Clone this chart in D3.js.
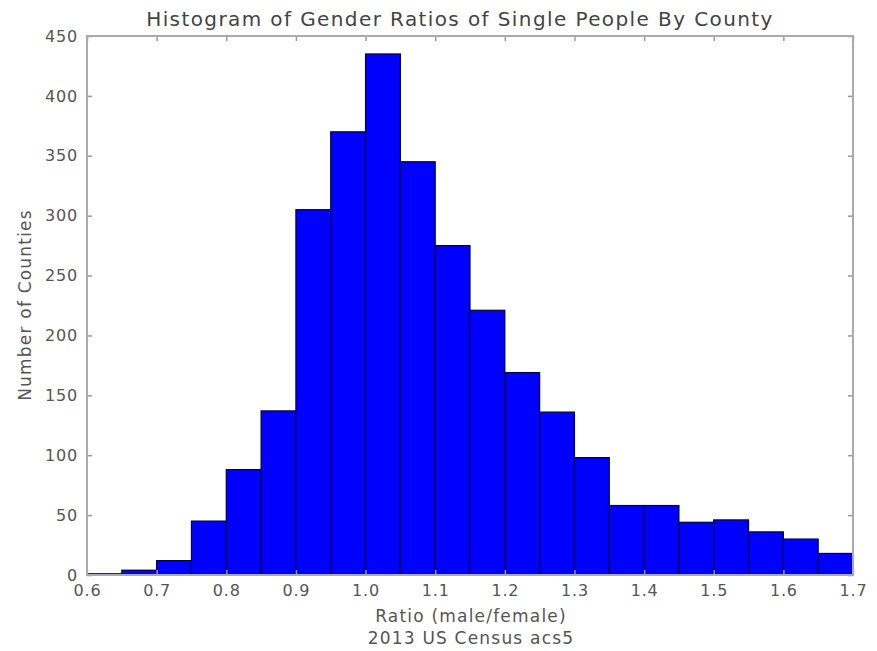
<!DOCTYPE html>
<html><head><meta charset="utf-8">
<script src="https://cdn.jsdelivr.net/npm/d3@7"></script>
<style>body{margin:0;background:#fff}svg{display:block}</style>
</head><body><svg id="c" width="877" height="651"></svg>
<script>
const binStarts = [0.60,0.65,0.70,0.75,0.80,0.85,0.90,0.95,1.00,1.05,1.10,1.15,1.20,1.25,1.30,1.35,1.40,1.45,1.50,1.55,1.60,1.65];
const counts    = [1,4,12,45,88,137,305,370,435,345,275,221,169,136,98,58,58,44,46,36,30,18];
const binWidth = 0.05;
const xTicks = [0.6,0.7,0.8,0.9,1.0,1.1,1.2,1.3,1.4,1.5,1.6,1.7];
const xTickLabels = ["0.6","0.7","0.8","0.9","1.0","1.1","1.2","1.3","1.4","1.5","1.6","1.7"];
const yTicks = [0,50,100,150,200,250,300,350,400,450];
const title = "Histogram of Gender Ratios of Single People By County";
const xLabel = ["Ratio (male/female)", "2013 US Census acs5"];
const yLabel = "Number of Counties";

const svg = d3.select("#c");
const m = {l:87, r:853, t:36, b:575};
const x = d3.scaleLinear().domain([0.6,1.7]).range([m.l,m.r]);
const y = d3.scaleLinear().domain([0,450]).range([m.b,m.t]);
const font = "DejaVu Sans, sans-serif";

svg.append("g").selectAll("rect").data(binStarts).join("rect")
  .attr("x", (d)=>x(d))
  .attr("width", (d)=>x(d+binWidth)-x(d))
  .attr("y", (d,i)=>y(counts[i]))
  .attr("height", (d,i)=>y(0)-y(counts[i]))
  .attr("fill","#0000ff").attr("stroke","#000040").attr("stroke-width",1.2);

const tickLen = 5;
const axB = d3.axisBottom(x).tickValues(xTicks).tickFormat((d,i)=>xTickLabels[i]).tickSizeInner(-tickLen).tickSizeOuter(0).tickPadding(10);
const axT = d3.axisTop(x).tickValues(xTicks).tickFormat("").tickSizeInner(-tickLen).tickSizeOuter(0);
const axL = d3.axisLeft(y).tickValues(yTicks).tickSizeInner(-tickLen).tickSizeOuter(0).tickPadding(9);
const axR = d3.axisRight(y).tickValues(yTicks).tickFormat("").tickSizeInner(-tickLen).tickSizeOuter(0);

function style(g){
  g.select(".domain").remove();
  g.selectAll(".tick line").attr("stroke","#999").attr("stroke-width",1.5);
  g.selectAll("text").attr("fill","#555").style("font-family",font).style("font-size","16px").style("letter-spacing","0.8px");
}
svg.append("g").attr("transform",`translate(0,${m.b})`).call(axB).call(style);
svg.append("g").attr("transform",`translate(0,${m.t})`).call(axT).call(style);
svg.append("g").attr("transform",`translate(${m.l},0)`).call(axL).call(style);
svg.append("g").attr("transform",`translate(${m.r},0)`).call(axR).call(style);

svg.append("rect").attr("x",m.l).attr("y",m.t).attr("width",m.r-m.l).attr("height",m.b-m.t)
  .attr("fill","none").attr("stroke","#aaa").attr("stroke-width",2);

svg.append("text").attr("x",460).attr("y",26).attr("text-anchor","middle")
  .style("font-family",font).style("font-size","20px").style("letter-spacing","1.4px").attr("fill","#444").text(title);
svg.append("text").attr("x",471).attr("y",622).attr("text-anchor","middle")
  .style("font-family",font).style("font-size","17px").style("letter-spacing","1.2px").attr("fill","#555").text(xLabel[0]);
svg.append("text").attr("x",471).attr("y",644).attr("text-anchor","middle")
  .style("font-family",font).style("font-size","17px").style("letter-spacing","1.2px").attr("fill","#555").text(xLabel[1]);
svg.append("text").attr("transform",`translate(31,305) rotate(-90)`).attr("text-anchor","middle")
  .style("font-family",font).style("font-size","17px").style("letter-spacing","1.2px").attr("fill","#555").text(yLabel);
</script></body></html>
